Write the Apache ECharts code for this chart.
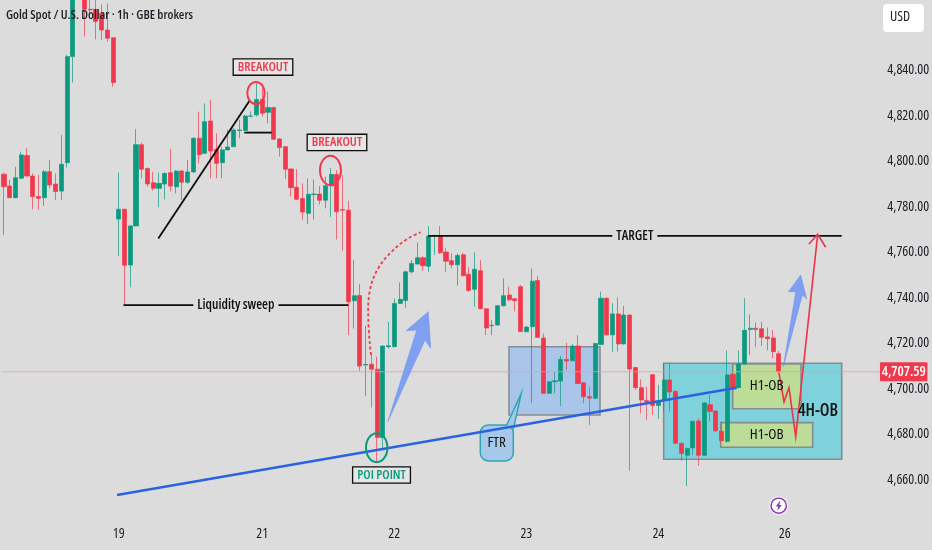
<!DOCTYPE html>
<html><head><meta charset="utf-8">
<style>html,body{margin:0;padding:0;background:#dcdcdc}#c{width:932px;height:550px}</style>
<script src="https://cdn.jsdelivr.net/npm/echarts@6/dist/echarts.min.js"></script>
</head><body><div id="c"></div>
<script>
const chartTitle = 'Gold Spot / U.S. Dollar · 1h · GBE brokers';
const currency = 'USD';
const lastPrice = 4707.59;
const priceTicks = [4660,4680,4700,4720,4740,4760,4780,4800,4820,4840];
const dayTicks = {20:'19',45:'21',68:'22',91:'23',114:'24',136:'26'};
const slotCount = 153;

const opens = [4794.4,4789.2,4784.1,4792.6,4802.6,4793.6,4784.6,4784.1,4795.5,4790.1,4787,4799.5,4846.1,4875,4874,4866.9,4866.9,4865.1,4857.8,4854.4,
4774.7,4779,4754.5,4771.7,4807.4,4796.9,4790.7,4788.2,4790.1,4795.1,4788.9,4795.8,4790.9,4795.4,4810.2,4803.6,4817.8,4805.4,4799.5,4805.1,
4806.5,4813.6,4813.6,4819.9,4820.5,4827.3,4821.6,4823.7,4809.9,4806.5,4796.7,4788.7,4783.7,4777.2,4785.5,4785.7,4783,4789.3,4794.3,4778.9,
4778.6,4738.8,4741.1,4710.5,4710.9,4708.7,4678.7,4718.6,4718.6,4737.6,4738.9,4751.5,4754.9,4757.7,4754,4767.2,4767.2,4760.2,4756.4,4754.6,
4759,4750.4,4743.8,4752,4735.3,4727.8,4728.1,4736.6,4741.3,4739.7,4745,4725.2,4727.4,4747.7,4722.4,4698.1,4703.2,4703.5,4713,4712.4,
4718.9,4702.7,4696.6,4695.9,4719.6,4739.9,4723.8,4733,4719.8,4732.5,4709.4,4700.6,4695,4706.3,4692.7,4695.2,4704,4699,4676.1,4670.9,
4674.1,4685.9,4670.9,4693.1,4690.3,4681.4,4677,4706.5,4700.6,4711,4726.2,4726.7,4726.5,4722.9,4722.4,4715.5];
const closes = [4788.9,4784.1,4792.9,4802.9,4793.6,4784.6,4783.8,4795.5,4789.7,4786.8,4798.8,4846.1,4875,4878,4866.9,4866.6,4861.5,4857.8,4854.2,4834.7,
4779,4754.4,4771.7,4807.4,4796.6,4790.1,4788.2,4790.4,4794.8,4789.2,4795.8,4790.9,4795.4,4810.2,4803,4817.5,4804.6,4799.2,4805.1,4806.4,
4813.9,4813.9,4820,4820,4827.3,4821.2,4823.7,4809.8,4806.1,4796.6,4788.5,4783.4,4777.8,4785.6,4785.7,4783,4789.3,4794.3,4777.9,4778.6,
4738.3,4741,4710.1,4710.8,4708.7,4678.7,4718.9,4719,4737.6,4739.4,4751.5,4755.2,4757.7,4754.2,4767.2,4767.4,4759.9,4756.2,4754.6,4758.7,
4749.8,4743.3,4752.6,4735.3,4726.8,4728,4736.6,4741,4739.2,4738.8,4725.3,4727.2,4747.4,4722.7,4698.1,4703.2,4703.6,4713,4712.3,4718.9,
4702.4,4696.6,4696,4720,4739.9,4723.8,4733,4719.8,4732.5,4708.8,4700.6,4695.2,4694.4,4692.8,4694.7,4704,4698.7,4676.1,4671.6,4673.9,
4685.8,4670.9,4693.9,4690.1,4681.6,4677.3,4706.2,4700,4711,4725.8,4726.7,4726.2,4722.7,4722.1,4716.4,4707.59];
const lows = [4767.7,4783.8,4783.8,4792.3,4793.3,4779,4778.7,4780.5,4788.2,4783.1,4783.1,4797.4,4834.7,4873,4854.9,4865,4853.7,4853.4,4852.7,4832.9,
4758.5,4736.9,4744.7,4771.5,4792.6,4788.9,4787.2,4779.9,4783.4,4786.8,4786,4783.1,4790.1,4795.1,4799.2,4803.3,4792.6,4792.6,4792.6,4804.8,
4806.5,4810.2,4813.6,4819.7,4819.7,4819.7,4816.8,4809.5,4802.1,4792.3,4784.6,4783.1,4774.3,4772.5,4774.5,4781.1,4779.4,4775.7,4765.7,4760.8,
4723.7,4726.6,4708,4696.9,4691.9,4668,4673.9,4717.8,4718.4,4737.4,4735.7,4750.8,4754.9,4752,4751.5,4758.9,4759.3,4751.5,4753,4745.4,
4749.4,4742.7,4736.1,4735,4723.7,4723.7,4727.8,4736.2,4738.6,4734.1,4725,4725,4694,4722.5,4697.8,4697.9,4698.1,4692.5,4708.3,4712.1,
4702.2,4693.7,4684.1,4695.7,4719.4,4723.5,4716.4,4716.4,4719.6,4664.1,4699.6,4689.3,4686.4,4688.6,4686.8,4690.1,4690.1,4675.8,4668.5,4657.4,
4670.9,4666.3,4670.6,4685.7,4681.1,4677,4676.4,4699.6,4700.3,4710.8,4715,4718.6,4718.9,4716.9,4713.5,4706.5];
const highs = [4795.1,4791.9,4797.7,4804.3,4805.8,4794.8,4794.1,4796.3,4800.7,4794.8,4811.7,4846.8,4877,4880,4876,4873,4872,4869,4869.5,4854.6,
4795.1,4779.3,4771.9,4814.2,4808.3,4797.5,4795.4,4795.1,4795.1,4805.4,4796.3,4796.3,4800.7,4810.6,4821.9,4825.6,4827,4812.4,4806.5,4813.9,
4814.6,4818.3,4820.5,4822,4834.4,4832.2,4830.7,4824.1,4810.2,4806.8,4797,4796.6,4790.4,4792.6,4792.1,4789.2,4793.3,4797.2,4796.2,4794,
4782.7,4756.7,4746.1,4727.8,4715.6,4714.2,4719.1,4729.6,4739.8,4746.8,4752,4756.7,4764.4,4758.4,4771.6,4767.7,4771.6,4761.8,4759.6,4759.6,
4759.9,4753.7,4760,4756.7,4735.5,4730.3,4736.9,4748.6,4744.9,4740,4745.7,4727.7,4753,4749.6,4724.4,4703.4,4707.6,4714.6,4720.3,4719.7,
4723.7,4703,4701,4720.2,4742.8,4740.3,4737.7,4740.3,4736.5,4732.8,4709.6,4704.3,4701,4706.5,4701.8,4711.3,4711.3,4699.3,4676.3,4674.1,
4686.1,4687.1,4694.1,4697.4,4690.6,4685.7,4716.9,4707,4716.9,4739.9,4732.8,4729.3,4729.6,4727,4725.9,4716.7];

const GREEN='#0b9a7f', RED='#f0394c', BLUE='#2a62e0', GREY='#868d90', BLACK='#0d0d0d', ARROW='#7f9ff0';
const FAMILY='"Open Sans"';
const cond=(w,s)=>'condensed '+w+' '+s+'px '+FAMILY;

// annotations, all in data coordinates: [candle slot, price]
const zones = [
  {a:[87.98,4718.6], b:[103.83,4688.6], fill:'#a9c5ea'},
  {a:[114.93,4711.3], b:[145.94,4669.1], fill:'#7fd2dc'},
  {a:[126.95,4711], b:[138.85,4691.3], fill:'#bcdc98'},
  {a:[124.86,4685.2], b:[140.89,4674.4], fill:'#bcdc98'}
];
const riseLine = [[26.88,4766.2],[42.86,4827]];
const shelfLine = [[41.87,4812.7],[46.64,4812.7]];
const sweepLine = [[20.82,4736.9],[60,4736.9]];
const targetLine = [[73.87,4767.3],[145.94,4767.3]];
const trendLine = [[19.69,4653.4],[127.65,4700.57]];
const arrowA = [[66.85,4685.6],[71.9,4725.9],[70.04,4725.6],[73.92,4734],[74.34,4717.9],[73.35,4721.5]];
const arrowB = [[135.77,4709.8],[137.93,4742.8],[136.64,4742.8],[138.8,4750.1],[139.85,4739.6],[139.08,4741.3]];
const dashCurve = [[63.94,4715],[63.47,4730.3],[63.76,4743.5],[65.21,4753.1],[67.55,4760.4],[70.16,4765.8],[72.6,4768.9]];
const redPath = [[135.02,4707],[135.89,4694.4],[136.76,4700.6],[137.93,4679],[141.76,4768]];
const redHead = [[140.24,4763.7],[141.76,4768],[143.15,4762.3]];
const rings = [
  {c:[43.9,4830.1], rx:8.7, ry:11, color:RED},
  {c:[56.88,4796.1], rx:10.5, ry:14.7, color:RED},
  {c:[64.93,4674.2], rx:10.7, ry:14.5, color:GREEN}
];
const tags = [
  {at:[45.12,4841.5], text:'BREAKOUT', color:RED},
  {at:[58.01,4808.4], text:'BREAKOUT', color:RED},
  {at:[65.77,4662.2], text:'POI POINT', color:GREEN}
];
const lineNotes = [
  {at:[40.4,4736.9], text:'Liquidity sweep'},
  {at:[109.9,4767.3], text:'TARGET'}
];
const zoneNotes = [
  {at:[132.87,4701.5], text:'H1-OB', size:15, weight:500},
  {at:[132.87,4679.8], text:'H1-OB', size:15, weight:500},
  {at:[141.81,4690.3], text:'4H-OB', size:17, weight:600}
];
const ftrBox = [[82.98,4684.2],[88.73,4668.4]];
const ftrTail = [[87.58,4684.2],[90.12,4698.1],[88.73,4682.4]];
const ftrNote = {at:[85.83,4676.6], text:'FTR'};

const chart = echarts.init(document.getElementById('c'), null, {renderer:'canvas'});
const pts = (api,arr)=>arr.map(p=>api.coord(p));
const poly = (api,arr,style,extra)=>Object.assign({type:'polyline',shape:{points:pts(api,arr)},style:Object.assign({fill:null},style)},extra||{});

function renderUnder(params,api){
  const children = zones.map(z=>{
    const p=api.coord(z.a), q=api.coord(z.b);
    return {type:'rect',shape:{x:p[0],y:p[1],width:q[0]-p[0],height:q[1]-p[1]},style:{fill:z.fill,stroke:GREY,lineWidth:1.6}};
  });
  return {type:'group',children};
}
function renderOver(params,api){
  const c=[];
  const sw={stroke:BLACK,lineWidth:1.8};
  c.push(poly(api,[[-0.5,lastPrice],[152.5,lastPrice]],{stroke:'#ee9aa3',lineWidth:0.8}));
  const fp=api.coord(ftrBox[0]), fq=api.coord(ftrBox[1]);
  c.push({type:'rect',shape:{x:fp[0],y:fp[1],width:fq[0]-fp[0],height:fq[1]-fp[1],r:8},style:{fill:'#a6c9ea',stroke:'#2ea5b8',lineWidth:1.5}});
  c.push({type:'polygon',shape:{points:pts(api,ftrTail)},style:{fill:'#a6c9ea'}});
  c.push(poly(api,ftrTail,{stroke:'#2ea5b8',lineWidth:1.5}));
  c.push({type:'text',x:api.coord(ftrNote.at)[0],y:api.coord(ftrNote.at)[1],style:{text:ftrNote.text,fill:'#111',font:cond(500,15),align:'center',verticalAlign:'middle'}});
  [riseLine,shelfLine,sweepLine,targetLine].forEach(l=>c.push(poly(api,l,sw)));
  c.push(poly(api,trendLine,{stroke:BLUE,lineWidth:2.4}));
  [arrowA,arrowB].forEach(a=>c.push({type:'polygon',shape:{points:pts(api,a)},style:{fill:ARROW,stroke:'#6f93ee',lineWidth:0.5}}));
  c.push({type:'polyline',shape:{points:pts(api,dashCurve),smooth:0.4},style:{fill:null,stroke:RED,lineWidth:1.8,lineDash:[3,2.5]}});
  c.push(poly(api,redPath,{stroke:'#ee3348',lineWidth:1.6}));
  c.push(poly(api,redHead,{stroke:'#ee3348',lineWidth:1.6}));
  rings.forEach(r=>{const p=api.coord(r.c);c.push({type:'ellipse',shape:{cx:p[0],cy:p[1],rx:r.rx,ry:r.ry},style:{fill:null,stroke:r.color,lineWidth:2}});});
  tags.forEach(t=>{const p=api.coord(t.at);c.push({type:'text',x:p[0],y:p[1],style:{text:t.text,fill:t.color,font:cond(600,13),align:'center',verticalAlign:'middle',backgroundColor:'#e6e6e6',borderColor:BLACK,borderWidth:1.3,padding:[1,4,1,4]}});});
  lineNotes.forEach(t=>{const p=api.coord(t.at);c.push({type:'text',x:p[0],y:p[1],style:{text:t.text,fill:'#111',font:cond(600,13.5),align:'center',verticalAlign:'middle',backgroundColor:'#dcdcdc',padding:[1,4,1,4]}});});
  zoneNotes.forEach(t=>{const p=api.coord(t.at);c.push({type:'text',x:p[0],y:p[1],style:{text:t.text,fill:'#111',font:cond(t.weight,t.size),align:'center',verticalAlign:'middle'}});});
  const lp=api.coord([152.5,lastPrice]);
  c.push({type:'rect',shape:{x:lp[0]+0.6,y:lp[1]-9.5,width:47.5,height:19,r:1},style:{fill:'#f0394c'}});
  c.push({type:'text',x:lp[0]+24.4,y:lp[1],style:{text:lastPrice.toFixed(2).replace(/^(\d)(\d{3})/,'$1,$2'),fill:'#fff',font:cond(600,14),align:'center',verticalAlign:'middle'}});
  return {type:'group',children:c};
}

const categories = Array.from({length:slotCount},(_,i)=>dayTicks[i]||'');
chart.setOption({
  animation:false,
  backgroundColor:'#dcdcdc',
  title:{text:chartTitle,left:6,top:9,padding:0,textStyle:{fontFamily:FAMILY,fontStyle:'condensed',fontSize:12.7,fontWeight:600,color:'#1c1f26'}},
  grid:{left:1.13,top:-20.5,width:878.22,height:546,containLabel:false,outerBoundsMode:'none'},
  xAxis:[
    {type:'category',data:categories,axisLine:{show:false},axisTick:{show:false},splitLine:{show:false},
     axisLabel:{interval:0,margin:2,color:'#1c1f26',fontFamily:FAMILY,fontStyle:'condensed',fontSize:14,fontWeight:500,hideOverlap:false}},
    {type:'value',min:-0.5,max:152.5,show:false,splitLine:{show:false}}
  ],
  yAxis:{type:'value',position:'right',min:4640,max:4880,interval:20,scale:true,
    axisLine:{show:false},axisTick:{show:false},splitLine:{show:false},
    axisLabel:{margin:8,color:'#1c1f26',fontFamily:FAMILY,fontStyle:'condensed',fontSize:14,fontWeight:500,
      formatter:v=>priceTicks.includes(v)?String(v).replace(/^(\d)(\d{3})$/,'$1,$2')+'.00':''}},
  series:[
    {type:'custom',name:'zones',xAxisIndex:1,yAxisIndex:0,z:1,silent:true,clip:false,renderItem:renderUnder,data:[[0,lastPrice]]},
    {type:'candlestick',name:'XAUUSD',xAxisIndex:0,yAxisIndex:0,z:3,barWidth:4.6,silent:true,
     data:opens.map((o,i)=>[o,closes[i],lows[i],highs[i]]),
     itemStyle:{color:GREEN,color0:RED,borderColor:GREEN,borderColor0:RED,borderWidth:0.7}},
    {type:'custom',name:'notes',xAxisIndex:1,yAxisIndex:0,z:6,silent:true,clip:false,renderItem:renderOver,data:[[0,lastPrice]]}
  ],
  graphic:[
    {type:'rect',left:883,top:4,z:10,shape:{width:41,height:28,r:4},style:{fill:'#ffffff'}},
    {type:'text',left:890,top:10,z:11,style:{text:currency,fill:'#1c1f26',font:cond(500,14)}},
    {type:'circle',z:10,shape:{cx:778.7,cy:505.7,r:9.5},style:{fill:'#f4f0f6'}},
    {type:'circle',z:11,shape:{cx:778.7,cy:505.7,r:7.6},style:{fill:'#ffffff',stroke:'#8e2fb0',lineWidth:1.4}},
    {type:'polygon',z:12,shape:{points:[[780.2,500.5],[775.8,506.5],[778.3,506.5],[777.2,511],[781.7,505],[779.2,505]]},style:{fill:'#8e2fb0'}}
  ]
});
</script></body></html>
